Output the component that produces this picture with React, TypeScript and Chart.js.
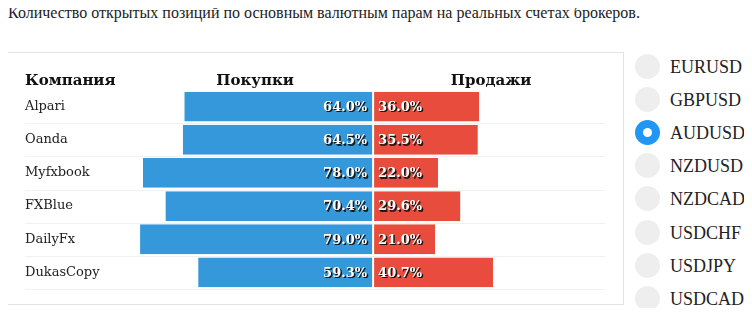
import React, { useEffect, useRef } from "react";
import { Chart, registerables } from "chart.js";

Chart.register(...registerables);

const TITLE = "Количество открытых позиций по основным валютным парам на реальных счетах брокеров.";
const companies = ["Alpari", "Oanda", "Myfxbook", "FXBlue", "DailyFx", "DukasCopy"];
const buyValues = [64.0, 64.5, 78.0, 70.4, 79.0, 59.3];
const sellValues = [36.0, 35.5, 22.0, 29.6, 21.0, 40.7];
const headers = ["Компания", "Покупки", "Продажи"];
const pairs = ["EURUSD", "GBPUSD", "AUDUSD", "NZDUSD", "NZDCAD", "USDCHF", "USDJPY", "USDCAD"];
const selectedPair = "AUDUSD";

const BLUE = "#3498db";
const RED = "#e74c3c";

const tablePlugin = {
  id: "tablePlugin",
  beforeDatasetsDraw(chart: any) {
    const { ctx, chartArea, scales } = chart;
    const y = scales.y;
    const n = companies.length;
    const band = (y.getPixelForValue(n - 1) - y.getPixelForValue(0)) / (n - 1);
    ctx.save();
    ctx.strokeStyle = "#f1f1f1";
    ctx.lineWidth = 1;
    for (let i = 0; i < n; i++) {
      const yy = Math.round(y.getPixelForValue(i) + band / 2) + 0.5;
      ctx.beginPath();
      ctx.moveTo(chartArea.left, yy);
      ctx.lineTo(chartArea.right, yy);
      ctx.stroke();
    }
    ctx.restore();
  },
  afterDatasetsDraw(chart: any) {
    const { ctx, chartArea, scales } = chart;
    const x = scales.x;
    const y = scales.y;
    const zero = x.getPixelForValue(0);
    ctx.save();
    // company names
    ctx.font = '13px "DejaVu Serif", serif';
    ctx.fillStyle = "#222";
    ctx.textBaseline = "middle";
    ctx.textAlign = "left";
    companies.forEach((c, i) => {
      ctx.fillText(c, chartArea.left, y.getPixelForValue(i));
    });
    // headers
    ctx.font = 'bold 15px "DejaVu Serif", serif';
    ctx.fillStyle = "#111";
    ctx.textBaseline = "alphabetic";
    const hy = chartArea.top - 5;
    ctx.textAlign = "left";
    ctx.fillText(headers[0], chartArea.left, hy);
    ctx.textAlign = "center";
    ctx.fillText(headers[1], x.getPixelForValue(-40), hy);
    ctx.fillText(headers[2], x.getPixelForValue(40), hy);
    // value labels
    ctx.font = 'bold 13px "DejaVu Serif", serif';
    ctx.textBaseline = "middle";
    const drawLabel = (t: string, px: number, py: number, align: CanvasTextAlign) => {
      ctx.textAlign = align;
      ctx.fillStyle = "rgba(20,20,20,0.9)";
      ctx.fillText(t, px + 1.5, py + 1.5);
      ctx.fillText(t, px + 1, py + 1);
      ctx.fillStyle = "#fff";
      ctx.fillText(t, px, py);
    };
    companies.forEach((_, i) => {
      const py = y.getPixelForValue(i) + 1;
      drawLabel(buyValues[i].toFixed(1) + "%", zero - 6, py, "right");
      drawLabel(sellValues[i].toFixed(1) + "%", zero + 5, py, "left");
    });
    ctx.restore();
  },
};

function BrokerChart() {
  const ref = useRef<HTMLCanvasElement>(null);
  useEffect(() => {
    if (!ref.current) return;
    const chart = new Chart(ref.current, {
      type: "bar",
      data: {
        labels: companies,
        datasets: [
          {
            label: headers[1],
            data: buyValues.map((v) => -v),
            backgroundColor: BLUE,
            borderColor: "#fff",
            borderWidth: { top: 0, bottom: 0, left: 0, right: 1 } as any,
            borderSkipped: false,
            barPercentage: 0.9,
            categoryPercentage: 1,
          },
          {
            label: headers[2],
            data: sellValues,
            backgroundColor: RED,
            borderColor: "#fff",
            borderWidth: { top: 0, bottom: 0, left: 1, right: 0 } as any,
            borderSkipped: false,
            barPercentage: 0.9,
            categoryPercentage: 1,
          },
        ],
      },
      options: {
        indexAxis: "y",
        responsive: false,
        animation: false,
        devicePixelRatio: 1,
        layout: { padding: { left: 17, right: 17, top: 37, bottom: 14 } },
        plugins: { legend: { display: false }, tooltip: { enabled: false } },
        scales: {
          x: { display: false, stacked: true, min: -118, max: 78.6 },
          y: { display: false, stacked: true },
        },
      },
      plugins: [tablePlugin],
    });
    return () => chart.destroy();
  }, []);
  return <canvas ref={ref} width={614} height={250} style={{ width: 614, height: 250, display: "block" }} />;
}

export default function App() {
  return (
    <div style={{ position: "relative", width: 736, height: 300, fontFamily: '"Liberation Serif", "Times New Roman", serif', color: "#222" }}>
      <div style={{ position: "absolute", left: 0, top: -4, fontSize: 16, whiteSpace: "nowrap" }}>{TITLE}</div>
      <div
        style={{
          position: "absolute",
          left: -1,
          top: 44,
          width: 617,
          height: 253,
          border: "1px solid #e2e2e2",
          boxSizing: "border-box",
          background: "#fff",
        }}
      >
        <BrokerChart />
      </div>
      {pairs.map((p, i) => {
        const top = 46 + 33.1 * i;
        const sel = p === selectedPair;
        return (
          <div key={p} style={{ position: "absolute", left: 627, top, height: 25, display: "flex", alignItems: "center" }}>
            <div
              style={{
                width: 25,
                height: 25,
                borderRadius: "50%",
                background: sel ? "#2196F3" : "#eee",
                position: "relative",
              }}
            >
              {sel && (
                <div
                  style={{
                    position: "absolute",
                    left: 8,
                    top: 8,
                    width: 9,
                    height: 9,
                    borderRadius: "50%",
                    background: "#fff",
                  }}
                />
              )}
            </div>
            <span style={{ position: "absolute", left: 35, top: 0, lineHeight: "26px", fontSize: 18, whiteSpace: "nowrap" }}>{p}</span>
          </div>
        );
      })}
    </div>
  );
}
